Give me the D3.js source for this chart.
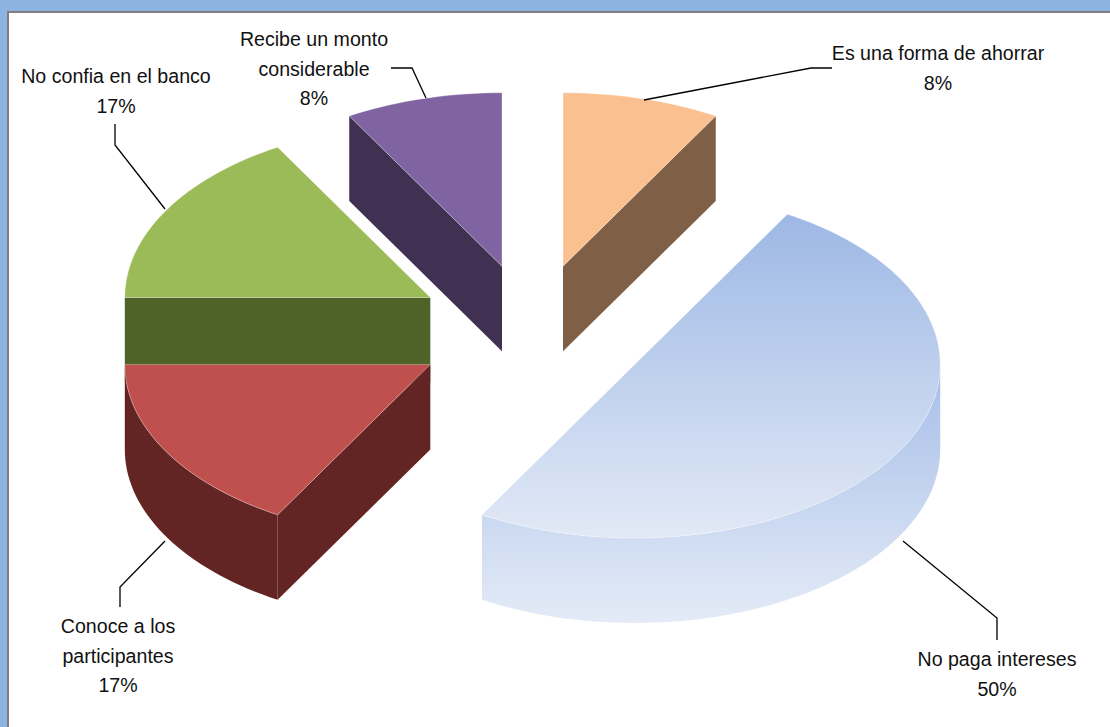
<!DOCTYPE html>
<html><head><meta charset="utf-8">
<script src="https://cdn.jsdelivr.net/npm/d3@7"></script>
<style>html,body{margin:0;padding:0;background:#fff}svg{display:block}text{font-family:"Liberation Sans",Arial,sans-serif;font-size:19.6px;fill:#111}</style>
</head><body><svg id="c" width="1110" height="727"></svg>
<script>
const categories = ["Es una forma de ahorrar","No paga intereses","Conoce a los participantes","No confia en el banco","Recibe un monto considerable"];
const values = [8.33,50,16.67,16.67,8.33];
const labelLines = [["Es una forma de ahorrar"],["No paga intereses"],["Conoce a los","participantes"],["No confia en el banco"],["Recibe un monto","considerable"]];
const topColors = ["#fac090","url(#blueTop)","#c0504d","#9bbb59","#8064a2"];
const sideColors = ["#7f6047","url(#blueSide)","#632523","#4f6228","#403152"];
const labelAnchors = [[938,60],[997,666],[118,633],[116,83],[314,46]];
const leaders = [
  [[832,68],[811,68],[644,100]],
  [[997,640],[997,618],[903,541]],
  [[120,607],[120,587],[165,541]],
  [[115,124],[115,145],[165,209]],
  [[391,68],[412,68],[426,98]]
];
const drawOrder = [4,0,3,2,1];

const W=1110,H=727;
const cx=532.5, cy=331, R=305.5, squash=0.568, depth=85, explode=118/305.5;
const x=d3.scaleLinear().domain([-1,1]).range([cx-R,cx+R]);
const y=d3.scaleLinear().domain([-1,1]).range([cy+R*squash,cy-R*squash]);
const svg=d3.select("#c");
const defs=svg.append("defs");
function grad(id,c0,c1){const g=defs.append("linearGradient").attr("id",id).attr("x1",0).attr("y1",0).attr("x2",0).attr("y2",1);
  g.append("stop").attr("offset",0).attr("stop-color",c0);g.append("stop").attr("offset",1).attr("stop-color",c1);}
grad("blueTop","#9db8e5","#e2e9f6");
grad("blueSide","#a6bee8","#e4ebf7");

// frame
svg.append("rect").attr("width",W).attr("height",H).attr("fill","#fff");
svg.append("rect").attr("width",W).attr("height",11).attr("fill","#8db3e2");
svg.append("rect").attr("width",7).attr("height",H).attr("fill","#8db3e2");
svg.append("rect").attr("x",7).attr("y",11).attr("width",W-7).attr("height",2).attr("fill","#7f7f7f");
svg.append("rect").attr("x",7).attr("y",11).attr("width",2).attr("height",H-11).attr("fill","#7f7f7f");

const arcs=d3.pie().sort(null).value(d=>d)(values);
const line=d3.line();
const pt=(o,r,a,dz=0)=>[x(o[0]+r*Math.sin(a)),y(o[1]+r*Math.cos(a))+dz];
const arcPts=(o,a0,a1,dz=0)=>{const n=Math.max(2,Math.ceil((a1-a0)/0.03));
  return d3.range(n+1).map(i=>pt(o,1,a0+(a1-a0)*i/n,dz));};

drawOrder.forEach(i=>{
  const a=arcs[i],a0=a.startAngle,a1=a.endAngle,mid=(a0+a1)/2;
  const o=[explode*Math.sin(mid),explode*Math.cos(mid)];
  const g=svg.append("g").attr("class","slice");
  const apex=pt(o,0,0);
  const face=ang=>[apex,pt(o,1,ang),pt(o,1,ang,depth),pt(o,0,0,depth)];
  if(Math.sin(a0)<-1e-6) g.append("path").attr("d",line(face(a0))+"Z").attr("fill",sideColors[i]);
  if(Math.sin(a1)>1e-6) g.append("path").attr("d",line(face(a1))+"Z").attr("fill",sideColors[i]);
  const s0=Math.max(a0,Math.PI/2),s1=Math.min(a1,Math.PI*1.5);
  if(s1>s0){
    const up=arcPts(o,s0,s1),down=arcPts(o,s0,s1,depth).reverse();
    g.append("path").attr("d",line(up.concat(down))+"Z").attr("fill",sideColors[i]);
  }
  g.append("path").attr("d",line([apex].concat(arcPts(o,a0,a1)))+"Z")
    .attr("fill",topColors[i]).attr("stroke","#fff").attr("stroke-opacity",.45).attr("stroke-width",.7);
});

const fmt=d3.format(".0%");
categories.forEach((c,i)=>{
  svg.append("path").attr("d",line(leaders[i])).attr("fill","none").attr("stroke","#000").attr("stroke-width",1.3);
  const lines=labelLines[i].concat([fmt(values[i]/d3.sum(values))]);
  const t=svg.append("text").attr("text-anchor","middle");
  lines.forEach((l,j)=>t.append("tspan").attr("x",labelAnchors[i][0]).attr("y",labelAnchors[i][1]+j*29.7).text(l));
});
</script></body></html>
